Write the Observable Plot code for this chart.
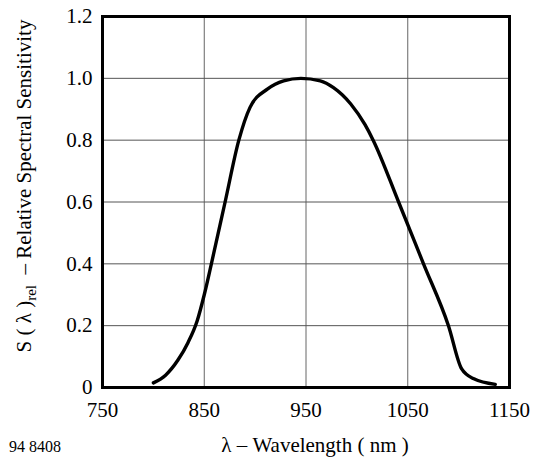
<!DOCTYPE html>
<html>
<head>
<meta charset="utf-8">
<script src="https://cdn.jsdelivr.net/npm/d3@7"></script>
<script src="https://cdn.jsdelivr.net/npm/@observablehq/plot@0.6"></script>
<style>
  html, body { margin: 0; padding: 0; background: #fff; }
  #chart svg { display: block; }
  #chart svg text { font-family: "Liberation Serif", "Times New Roman", serif !important; }
</style>
</head>
<body>
<div id="chart"></div>
<script>
// Wavelength (nm) and relative spectral sensitivity
const wavelength = [800, 812, 824, 834, 843, 850, 857, 870.5, 884, 895, 912, 928, 945, 964, 977, 994, 1008, 1016, 1041, 1065.5, 1090, 1103, 1115, 1136];
const sensitivity = [0.015, 0.04, 0.088, 0.145, 0.215, 0.3, 0.4, 0.6, 0.8, 0.906, 0.965, 0.992, 1.0, 0.992, 0.97, 0.917, 0.85, 0.8, 0.6, 0.4, 0.2, 0.06, 0.028, 0.01];
const xTicks = [750, 850, 950, 1050, 1150];
const yTicks = [0, 0.2, 0.4, 0.6, 0.8, 1.0, 1.2];
const yTickLabels = ["0", "0.2", "0.4", "0.6", "0.8", "1.0", "1.2"];
const xGrid = [850, 950, 1050];
const yGrid = [0.2, 0.4, 0.6, 0.8, 1.0];

const data = wavelength.map((w, i) => ({w, s: sensitivity[i]}));
const font = "Liberation Serif, Times New Roman, serif";

const W = 538, H = 459;
const mL = 102, mR = 29, mT = 16, mB = 72;

const chart = Plot.plot({
  width: W,
  height: H,
  marginLeft: mL,
  marginRight: mR,
  marginTop: mT,
  marginBottom: mB,
  style: {fontFamily: font, fontSize: "21px", color: "#000", background: "#fff"},
  x: {domain: [750, 1150], ticks: xTicks, tickSize: 0, tickPadding: 15, label: null, tickFormat: d => String(d)},
  y: {domain: [0, 1.2], ticks: yTicks, tickSize: 0, tickPadding: 10, label: null,
      tickFormat: d => yTickLabels[yTicks.findIndex(t => Math.abs(t - d) < 1e-9)]},
  marks: [
    Plot.ruleX(xGrid, {stroke: "#666", strokeWidth: 1}),
    Plot.ruleY(yGrid, {stroke: "#555", strokeWidth: 1}),
    Plot.line(data, {x: "w", y: "s", curve: "monotone-x", stroke: "#000", strokeWidth: 3.4, strokeLinecap: "round", strokeLinejoin: "round"}),
    Plot.frame({stroke: "#000", strokeWidth: 3})
  ]
});

const svg = d3.select(chart);
svg.selectAll("g[aria-label$='tick label'] text").attr("fill", "#000");

// x-axis title
svg.append("text")
  .attr("x", 315).attr("y", 452)
  .attr("text-anchor", "middle")
  .style("font-size", "21px").attr("fill", "#000")
  .text("λ – Wavelength ( nm )");

// y-axis title with subscript
const yt = svg.append("text")
  .attr("transform", "translate(31,186) rotate(-90)")
  .attr("text-anchor", "middle")
  .style("font-size", "21px").attr("fill", "#000");
yt.append("tspan").text("S ( λ )");
yt.append("tspan").style("font-size", "15px").attr("dy", 5).text("rel");
yt.append("tspan").attr("dy", -5).text("\u00a0\u00a0– Relative Spectral Sensitivity");

// caption
svg.append("text")
  .attr("x", 9).attr("y", 452)
  .attr("text-anchor", "start")
  .style("font-size", "16px").attr("fill", "#000")
  .text("94 8408");

document.getElementById("chart").appendChild(chart);
</script>
</body>
</html>
